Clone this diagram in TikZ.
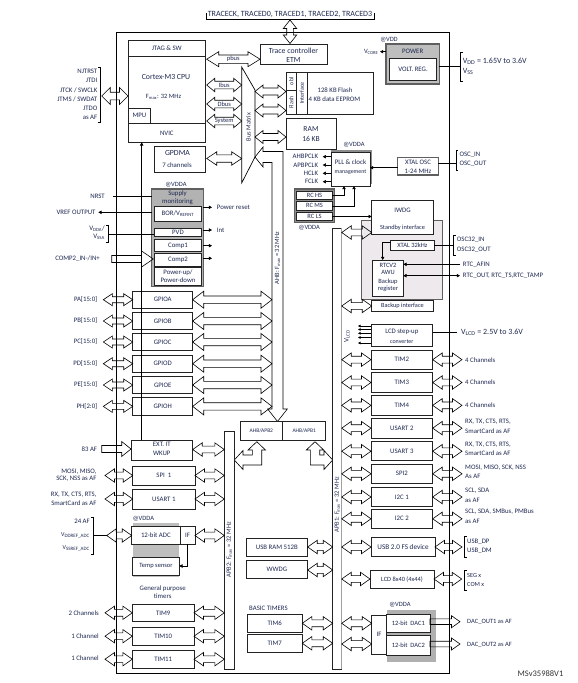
\documentclass[tikz,border=0pt]{standalone}
\usepackage{fontspec}
\setmainfont{Carlito}
\usetikzlibrary{arrows.meta}
\definecolor{tx}{RGB}{30,40,80}
\definecolor{bd}{RGB}{35,35,35}
\definecolor{gsup}{RGB}{178,178,178}
\definecolor{gpow}{RGB}{190,190,190}
\definecolor{gdk}{RGB}{95,95,95}
\definecolor{grc}{RGB}{140,140,140}
\definecolor{lav}{RGB}{238,233,237}
\definecolor{gbar}{RGB}{160,160,160}
\newcommand\fs[1]{\fontsize{#1}{9}\selectfont}
\newcommand\BX[7][]{\node[box,minimum width={(#5-#3)*1pt},minimum height={(#6-#4)*1pt},#1] (#2) at ({(#3+#5)/2},{(#4+#6)/2}) {#7};}
\newcommand\DAH[6]{\draw[wa] ({#1},{#3}) -- ({#1+#4},{#3-#5}) -- ({#1+#4},{#3-#6}) -- ({#2-#4},{#3-#6}) -- ({#2-#4},{#3-#5}) -- ({#2},{#3}) -- ({#2-#4},{#3+#5}) -- ({#2-#4},{#3+#6}) -- ({#1+#4},{#3+#6}) -- ({#1+#4},{#3+#5}) -- cycle;}
\newcommand\DA[3]{\DAH{#1}{#2}{#3}{9.5}{6.7}{3.4}}
\newcommand\SAR[6]{\draw[wa] ({#1},{#3-#6}) -- ({#2-#4},{#3-#6}) -- ({#2-#4},{#3-#5}) -- ({#2},{#3}) -- ({#2-#4},{#3+#5}) -- ({#2-#4},{#3+#6}) -- ({#1},{#3+#6}) -- cycle;}
\begin{document}
\begin{tikzpicture}[x=1pt,y=-1pt,
  box/.style={draw=bd,line width=0.75pt,inner sep=0pt,font=\fs{6.8},text=tx,align=center},
  lbl/.style={inner sep=0pt,font=\fs{6.8},text=tx,align=left},
  wa/.style={draw=black,line width=0.6pt,line join=miter},
  ln/.style={draw=black,line width=0.6pt},
  sarr/.style={ln,-{Triangle[length=3.2pt,width=3.4pt]}},
  darr/.style={ln,{Triangle[length=3.2pt,width=3.4pt]}-{Triangle[length=3.2pt,width=3.4pt]}},
  brk/.style={draw=black,line width=0.6pt}]
\useasboundingbox (0,0) rectangle (578,683);
% frame
\draw[line width=0.8pt] (116.7,32) rectangle (449,673);
% trace
\node[lbl,font=\fs{8}] (trace) at (290,14.5) {TRACECK, TRACED0, TRACED1, TRACED2, TRACED3};
\draw[brk] (206,13) -- (206,19.5) -- (374,19.5) -- (374,13);
\draw[wa] (290,20) -- (296.7,28.5) -- (293.3,28.5) -- (293.3,35) -- (296.7,35) -- (290,43.5) -- (283.3,35) -- (286.7,35) -- (286.7,28.5) -- (283.3,28.5) -- cycle;
\BX{etm}{260}{44}{327}{64}{}
\node[lbl,font=\fs{7.8}] at (293.5,51) {Trace controller};
\node[lbl,font=\fs{7.8}] at (293.5,60.3) {ETM};
% CPU
\BX{cpu}{128}{40}{205.7}{142}{}
\draw[draw=bd,line width=0.75pt] (128,56.7) -- (205.7,56.7) (128,123) -- (205.7,123);
\BX{mpu}{128}{108}{150.7}{123}{MPU}
\node[lbl] at (166.8,48.5) {JTAG \& SW};
\node[lbl,font=\fs{7.8}] at (166,76.5) {Cortex-M3 CPU};
\node[lbl,font=\fs{6.5}] at (163.5,96.7) {F\textsubscript{max}: 32 MHz};
\node[lbl] at (166.8,133) {NVIC};
% JTAG pins
\node[lbl,anchor=east] at (97.5,71.7) {NJTRST};
\node[lbl,anchor=east] at (97.5,80.7) {JTDI};
\node[lbl,anchor=east] at (97.5,90) {JTCK / SWCLK};
\node[lbl,anchor=east] at (97.5,99) {JTMS / SWDAT};
\node[lbl,anchor=east] at (97.5,108.3) {JTDO};
\node[lbl,anchor=east] at (97.5,117) {as AF};
\draw[brk] (98.3,67) -- (100.7,67) -- (100.7,122) -- (98.3,122);
\DAH{101.7}{128}{96}{8.5}{8.5}{3.8}
% buses CPU
\DAH{206.7}{260}{59.2}{12}{7.5}{4.2}
\node[lbl,font=\fs{6.5}] at (233.3,59.2) {pbus};
\DAH{206.7}{241.7}{85}{8}{6.7}{3.8}
\node[lbl,font=\fs{6.5}] at (224.2,85) {Ibus};
\DAH{206.7}{241.7}{104}{8}{6.7}{3.8}
\node[lbl,font=\fs{6.5}] at (224.2,104) {Dbus};
\DAH{206.7}{241.7}{121}{8}{6.7}{3.8}
\node[lbl,font=\fs{6.5}] at (224.2,121) {System};
% GPDMA
\BX{gpdma}{154}{146}{205.7}{172}{}
\node[lbl,font=\fs{7.8}] at (177.5,152.5) {GPDMA};
\node[lbl] at (177,165.5) {7 channels};
\DAH{206.7}{241.7}{158.5}{10}{6.7}{3.7}
% Bus matrix
\draw[ln,line width=0.7pt] (255,90) -- (241.7,67) -- (241.7,183) -- (255,157);
\draw[gbar,line width=1.6pt] (255,90) -- (255,157);
\node[lbl,rotate=90,font=\fs{6.5}] (busm) at (248.5,127) {Bus Matrix};
% Flash
\BX{flash}{286}{72}{373}{114}{}
\draw[draw=bd,line width=0.75pt] (296.5,72) -- (296.5,114) (307,72) -- (307,114) (286,90.5) -- (296.5,90.5);
\node[lbl,rotate=90,font=\fs{6}] at (291.3,81.3) {obl};
\node[lbl,rotate=90,font=\fs{6}] at (291.3,102.5) {Flash};
\node[lbl,rotate=90,font=\fs{6}] at (301.8,93) {Interface};
\node[lbl] at (335,90.5) {128 KB Flash};
\node[lbl] at (334.5,99.5) {4 KB data EEPROM};
\DAH{255}{286}{91.5}{8}{6.5}{3.5}
\DAH{255}{286}{110.5}{8}{6.5}{3.5}
\DAH{255}{286}{137}{8}{6.5}{3.5}
\BX{ram}{286}{118.3}{336}{149}{}
\node[lbl,font=\fs{7.6}] at (311,129) {RAM};
\node[lbl,font=\fs{7.6}] at (311,139) {16 KB};
% AHB
\draw[wa] (255,157) -- (263,147) -- (263,151.5) -- (283,151.5) -- (283,409) -- (287.3,409) -- (277.5,421.5) -- (267.7,409) -- (272,409) -- (272,162.5) -- (263,162.5) -- (263,167) -- cycle;
\node[lbl,rotate=90,font=\fs{6.5}] at (277.5,258) {AHB: F\textsubscript{max} = 32 MHz};
% bridges
\BX[font=\fs{5.5}]{br2}{240}{421.7}{282.7}{440.7}{AHB/APB2}
\BX[font=\fs{5.5}]{br1}{282.7}{421.7}{325.7}{440.7}{AHB/APB1}
\draw[wa] (234.3,460) -- (243,450.5) -- (243,455) -- (252.3,455) -- (252.3,450) -- (248,450) -- (256.8,441.7) -- (265.5,450) -- (261.7,450) -- (261.7,465) -- (243,465) -- (243,469.5) -- cycle;
\draw[wa] (332.7,460) -- (324,450.5) -- (324,455) -- (319.7,455) -- (319.7,450) -- (323.7,450) -- (315,441.7) -- (306.3,450) -- (310.3,450) -- (310.3,465) -- (324,465) -- (324,469.5) -- cycle;
% APB2 bar
\BX{apb2}{224.3}{431}{234.3}{669}{}
\node[lbl,rotate=90,font=\fs{6.5}] at (229.3,550) {APB2: F\textsubscript{max} = 32 MHz};
% APB1 bar
\draw[draw=bd,line width=0.75pt] (341.7,228) -- (332.7,228) -- (332.7,669) -- (341.7,669);
\draw[gbar,line width=1.3pt] (341.7,228) -- (341.7,669);
\node[lbl,rotate=90,font=\fs{6.5}] (apb1) at (337.2,505) {APB1: F\textsubscript{max} = 32 MHz};
% GPIO
\foreach \n/\y/\p in {A/291/PA[15:0],B/312.3/PB[15:0],C/333.3/PC[15:0],D/355/PD[15:0],E/376.3/PE[15:0],H/397.7/PH[2:0]}{
  \BX{gpio\n}{132.7}{\y}{192.7}{\y+17.3}{GPIO\n}
  \node[lbl,anchor=east] at (97.5,{\y+8.7}) {\p};
  \DAH{103.3}{132.7}{\y+8.7}{9}{6}{3}
  \DAH{192.7}{272}{\y+8.7}{11}{8.5}{3.7}
}
% NVIC line
\draw[sarr] (141.7,440) -- (141.7,142.3);
% Supply monitoring
\node[lbl,font=\fs{6.5}] at (176,184.3) {@VDDA};
\BX[draw=gdk,line width=1.4pt,fill=gsup]{sup}{151.7}{189}{203.3}{286.7}{}
\node[lbl] at (177.5,194) {Supply};
\node[lbl] at (177.5,201.5) {monitoring};
\BX[fill=white]{bor}{154.3}{206}{201.7}{221.7}{BOR/V\textsubscript{REFINT}}
\BX[fill=white]{pvd}{154.3}{228.3}{201.7}{236.7}{PVD}
\BX[fill=white]{comp1}{154.3}{239.3}{201.7}{251.7}{Comp1}
\BX[fill=white]{comp2}{154.3}{253.3}{201.7}{266}{Comp2}
\BX[fill=white,font=\fontsize{6.8}{7.6}\selectfont]{pup}{154.3}{267.7}{201.7}{285}{Power-up/\\Power-down}
\draw[sarr] (203.3,207.3) -- (212,207.3);
\draw[sarr] (203.3,230) -- (212,230);
\draw[sarr] (203.3,245.7) -- (212,245.7);
\draw[sarr] (203.3,258.3) -- (212,258.3);
\node[lbl,anchor=west] at (216.7,207.5) {Power reset};
\node[lbl,anchor=west] at (216.7,230) {Int};
\node[lbl,anchor=east] at (105,196.7) {NRST};
\draw[ln] (113.3,196.7) -- (151.7,196.7);
\node[lbl,anchor=east] at (95.7,212.3) {VREF OUTPUT};
\draw[sarr] (151.7,212.3) -- (98.3,212.3);
\node[lbl,anchor=east] at (105,229) {V\textsubscript{DDA}/};
\node[lbl,anchor=east] at (105,237.3) {V\textsubscript{SSA}};
\draw[brk] (106,225.7) -- (108.3,225.7) -- (108.3,242.7) -- (106,242.7);
\draw[ln] (108.3,234.3) -- (154.3,234.3);
\node[lbl,anchor=east] at (100,259) {COMP2\_IN-/IN+};
\SAR{111.7}{153.3}{259}{11.7}{8}{3.5}
% PLL
\node[lbl,font=\fs{6.5}] at (354,145) {@VDDA};
\fill[grc] (331,150) rectangle (372,184);
\BX[fill=white]{pll}{331}{152.3}{370}{186}{}
\node[lbl,font=\fs{6.9}] at (350.5,162.3) {PLL \& clock};
\node[lbl,font=\fs{5.9}] at (350.5,172) {management};
\foreach \t/\y in {AHBPCLK/156.7,APBPCLK/165,HCLK/173.3,FCLK/181.7}{
  \node[lbl,anchor=east] at (318.3,\y) {\t};
  \draw[sarr] (331,\y) -- (322.7,\y);}
\BX[draw=gdk,line width=1.1pt]{xtal}{397.7}{157.3}{438.3}{175}{}
\node[lbl] at (418,162.3) {XTAL OSC};
\node[lbl] at (418,171.5) {1-24 MHz};
\draw[sarr] (397.7,167.7) -- (370,167.7);
\draw[ln] (438.3,163.3) -- (456,163.3);
\draw[brk] (458.3,150) -- (456,150) -- (456,170) -- (458.3,170);
\node[lbl,anchor=west] at (459.3,155) {OSC\_IN};
\node[lbl,anchor=west] at (459.3,164) {OSC\_OUT};
% RC
\BX[draw=gdk,line width=1.4pt,fill=grc]{rc}{294.3}{189}{334.3}{222.7}{}
\BX[fill=white,font=\fs{6.5}]{rchs}{296.7}{191.7}{332.3}{199.3}{RC HS}
\BX[fill=white,font=\fs{6.5}]{rcms}{296.7}{201.7}{332.3}{210}{RC MS}
\BX[fill=white,font=\fs{6.5}]{rcls}{296.7}{212.3}{332.3}{220.7}{RC LS}
\node[lbl,font=\fs{6.5}] at (309.3,227.7) {@VDDA};
\draw[sarr] (332.3,195.5) -| (344,186);
\draw[sarr] (332.3,205.8) -| (354,186);
% IWDG / backup domain
\BX[fill=lav,draw=gdk,line width=0.9pt]{bkdom}{361.7}{220}{442.3}{299.3}{}
\BX[fill=white]{iwdg}{371.7}{200}{433.3}{234}{}
\draw[sarr] (332.3,216.5) -- (371.7,216.5);
\node[lbl] at (402.5,210) {IWDG};
\node[lbl,font=\fs{6.3}] at (402.5,227.7) {Standby interface};
\BX[fill=white]{bkif}{371.7}{300}{433.3}{311.7}{}
\node[lbl,font=\fs{6.3}] at (402.5,306) {Backup interface};
\DA{341.7}{371.7}{232.5}
\DA{341.7}{371.7}{306}
\BX[fill=white,font=\fs{6.5}]{x32}{390.7}{240}{434}{250}{XTAL 32kHz}
\BX[fill=white]{rtc}{372.7}{260}{403.3}{296}{}
\draw[sarr] (390.7,242.5) -| (382.7,260);
\node[lbl,font=\fs{6.5}] at (388,265.3) {RTCV2};
\node[lbl,font=\fs{6.5}] at (388,272) {AWU};
\node[lbl,font=\fs{6.5}] at (388,281.5) {Backup};
\node[lbl,font=\fs{6.5}] at (388,288.5) {register};
\draw[ln] (434,245) -- (453.3,245);
\draw[brk] (455.6,235) -- (453.3,235) -- (453.3,255) -- (455.6,255);
\node[lbl,anchor=west] at (456.7,239.5) {OSC32\_IN};
\node[lbl,anchor=west] at (456.7,249.5) {OSC32\_OUT};
\draw[sarr] (460,264.3) -- (403.3,264.3);
\draw[darr] (403.3,275.7) -- (460,275.7);
\node[lbl,anchor=west] at (462.7,264.3) {RTC\_AFIN};
\node[lbl,anchor=west] at (462.7,275.7) {RTC\_OUT, RTC\_TS,RTC\_TAMP};
% POWER
\node[lbl,font=\fs{6.5}] at (389,39.3) {@VDD};
\BX[fill=gpow,draw=gdk,line width=1.4pt]{power}{386}{44}{439.3}{84}{}
\node[lbl] at (412.7,51.7) {POWER};
\BX[fill=white]{vreg}{389.3}{58.3}{436.7}{80}{VOLT. REG.}
\node[lbl,anchor=east,font=\fs{6.5}] at (378.5,51.7) {V\textsubscript{CORE}};
\draw[sarr] (386,51.7) -- (380,51.7);
\draw[ln] (439.3,66.7) -- (460.7,66.7);
\draw[brk] (463,52.7) -- (460.7,52.7) -- (460.7,81.7) -- (463,81.7);
\node[lbl,anchor=west,font=\fs{8}] at (462.7,61.7) {V\textsubscript{DD} = 1.65V to 3.6V};
\node[lbl,anchor=west,font=\fs{8}] at (462.7,71.7) {V\textsubscript{SS}};
% LCD step-up
\BX{lcdsu}{371}{324.3}{432.7}{346.7}{}
\node[lbl] at (401.8,331.5) {LCD step-up};
\node[lbl,font=\fs{6}] at (401.8,341.5) {converter};
\draw[ln] (432.7,332.3) -- (457,332.3);
\node[lbl,anchor=west,font=\fs{8}] at (461,332.3) {V\textsubscript{LCD} = 2.5V to 3.6V};
\foreach \y in {326,329.5,333.3,337.5,343}{\draw[ln,-{Triangle[length=2.5pt,width=2.5pt]}] (371,\y) -- (358,\y);}
\node[lbl,rotate=90,font=\fs{7}] at (347,336) {V\textsubscript{LCD}};
% APB1 peripherals
\foreach \n/\t/\ya/\yb in {tim2/TIM2/350/369.3, tim3/TIM3/372.7/392.3, tim4/TIM4/395.7/415, usart2/USART 2/418.3/438, usart3/USART 3/441.7/460.7, spi2/SPI2/464.3/483.3, itc1/I2C 1/487.3/506.7, itc2/I2C 2/509.3/528.3}{
  \BX{\n}{371}{\ya}{432.7}{\yb}{\t}
  \DA{341.7}{371}{(\ya+\yb)/2}
  \DA{432.7}{462}{(\ya+\yb)/2}
}
\node[lbl,anchor=west] at (465,359.7) {4 Channels};
\node[lbl,anchor=west] at (465,382.5) {4 Channels};
\node[lbl,anchor=west] at (465,405.3) {4 Channels};
\node[lbl,anchor=west] at (465,422) {RX, TX, CTS, RTS,};
\node[lbl,anchor=west] at (465,431) {SmartCard as AF};
\node[lbl,anchor=west] at (465,444.3) {RX, TX, CTS, RTS,};
\node[lbl,anchor=west] at (465,452.7) {SmartCard as AF};
\node[lbl,anchor=west] at (465,467.3) {MOSI, MISO, SCK, NSS};
\node[lbl,anchor=west] at (465,476) {As AF};
\node[lbl,anchor=west] at (465,490.7) {SCL, SDA};
\node[lbl,anchor=west] at (465,500.7) {as AF};
\node[lbl,anchor=west] at (465,512) {SCL, SDA, SMBus, PMBus};
\node[lbl,anchor=west] at (465,521) {as AF};
\BX[font=\fs{7.2}]{usb}{371}{537.3}{435}{556.7}{USB 2.0 FS device}
\DA{341.7}{371}{547}
\DA{435}{462}{547}
\draw[brk] (466.5,536.7) -- (464.3,536.7) -- (464.3,557) -- (466.5,557);
\node[lbl,anchor=west] at (467,541.5) {USB\_DP};
\node[lbl,anchor=west] at (467,551) {USB\_DM};
\BX[font=\fs{6.4}]{lcd}{370}{570}{434}{588.3}{LCD 8x40 (4x44)}
\DA{341.7}{370}{579}
\DA{434}{461.7}{579}
\draw[brk] (466.5,570) -- (464.3,570) -- (464.3,590.7) -- (466.5,590.7);
\node[lbl,anchor=west,font=\fs{6.3}] at (467,575) {SEG x};
\node[lbl,anchor=west,font=\fs{6.3}] at (467,584) {COM x};
% DAC
\node[lbl,font=\fs{6.5}] at (400,604.3) {@VDDA};
\fill[gray!62] (386.7,610) rectangle (435.7,661.7);
\BX[fill=white]{dacif}{371.7}{615}{386.7}{654}{IF}
\BX[fill=white,font=\fs{6.5}]{dac1}{386.7}{614}{430}{632.3}{12-bit~~DAC1}
\BX[fill=white,font=\fs{6.5}]{dac2}{386.7}{635.7}{430}{655}{12-bit~~DAC2}
\SAR{430}{460}{621.7}{8.5}{6}{2.8}
\SAR{430}{460}{644}{8.5}{6}{2.8}
\node[lbl,anchor=west,font=\fs{6.5}] at (467,622) {DAC\_OUT1 as AF};
\node[lbl,anchor=west,font=\fs{6.5}] at (467,644.5) {DAC\_OUT2 as AF};
\DA{341.7}{371.7}{623.3}
\DA{341.7}{371.7}{644}
% APB1 left side
\BX{usbram}{246}{538.3}{307.7}{556}{USB RAM 512B}
\BX{wwdg}{246}{560}{307.7}{578.3}{WWDG}
\DA{307.7}{332.7}{547}
\DA{307.7}{332.7}{570}
\node[lbl,anchor=west] at (249,608.3) {BASIC TIMERS};
\BX{tim6}{247.3}{614.3}{302.3}{632.3}{TIM6}
\BX{tim7}{247.3}{634.3}{302.3}{652.3}{TIM7}
\DA{302.3}{332.7}{623.3}
\DA{302.3}{332.7}{643.3}
% EXT IT
\BX{exti}{131}{440}{192.7}{460}{}
\node[lbl] at (161.8,444.7) {EXT. IT};
\node[lbl] at (161.8,453.7) {WKUP};
\node[lbl,anchor=east] at (97.3,449) {83 AF};
\SAR{101.7}{131}{449}{9.3}{7.5}{3.5}
\DA{192.7}{224.3}{449.5}
% SPI1, USART1
\BX{spi1}{132.7}{466}{195}{485}{SPI~~1}
\node[lbl,anchor=east] at (96.7,471.7) {MOSI, MISO,};
\node[lbl,anchor=east] at (96.7,479) {SCK, NSS as AF};
\DA{105}{132.7}{475.5}
\DA{195}{224.3}{475.5}
\BX{usart1}{132.7}{489.3}{195}{509}{USART 1}
\node[lbl,anchor=east] at (96.7,494.3) {RX, TX, CTS, RTS,};
\node[lbl,anchor=east] at (96.7,503) {SmartCard as AF};
\DA{105}{132.7}{499}
\DA{195}{224.3}{499}
% ADC
\node[lbl,anchor=west,font=\fs{6.5}] at (132.7,518.3) {@VDDA};
\fill[gpow] (132.7,522.7) rectangle (179.3,576.7);
\BX[fill=white]{adc}{131.7}{526.7}{180}{544}{12-bit ADC}
\BX[fill=white]{adcif}{180}{526.7}{195}{544}{IF}
\BX[fill=white,font=\fs{6.5}]{temp}{132.7}{557.3}{179.3}{575}{Temp sensor}
\draw[sarr] (187.5,544) |- (179.3,566);
\node[lbl,anchor=east] at (90,521.7) {24 AF};
\node[lbl,anchor=east,font=\fs{6}] at (90,535.7) {V\textsubscript{DDREF\_ADC}};
\node[lbl,anchor=east,font=\fs{6}] at (90,548.3) {V\textsubscript{SSREF\_ADC}};
\draw[brk] (91,517.3) -- (93.3,517.3) -- (93.3,554) -- (91,554);
\draw[ln] (93.3,535.5) -- (106.7,535.5);
\DA{106.7}{131.7}{535.5}
\DA{195}{224.3}{535.5}
% timers
\node[lbl] at (162.7,588.3) {General purpose};
\node[lbl] at (162.7,596) {timers};
\BX{tim9}{132.3}{604}{194}{621.7}{TIM9}
\BX{tim10}{132.3}{627.3}{194}{645}{TIM10}
\BX{tim11}{132.3}{650}{194}{668.3}{TIM11}
\node[lbl,anchor=east] at (99,613.5) {2 Channels};
\node[lbl,anchor=east] at (99,635.7) {1 Channel};
\node[lbl,anchor=east] at (99,657.7) {1 Channel};
\DA{105}{132.3}{612.8}
\DA{105}{132.3}{636.2}
\DA{105}{132.3}{659.2}
\DA{194}{224.3}{612.8}
\DA{194}{224.3}{636.2}
\DA{194}{224.3}{659.2}
\node[lbl,anchor=east,font=\fs{8.5},text=black!80] at (563.5,673.3) {MSv35988V1};
\end{tikzpicture}
\end{document}
